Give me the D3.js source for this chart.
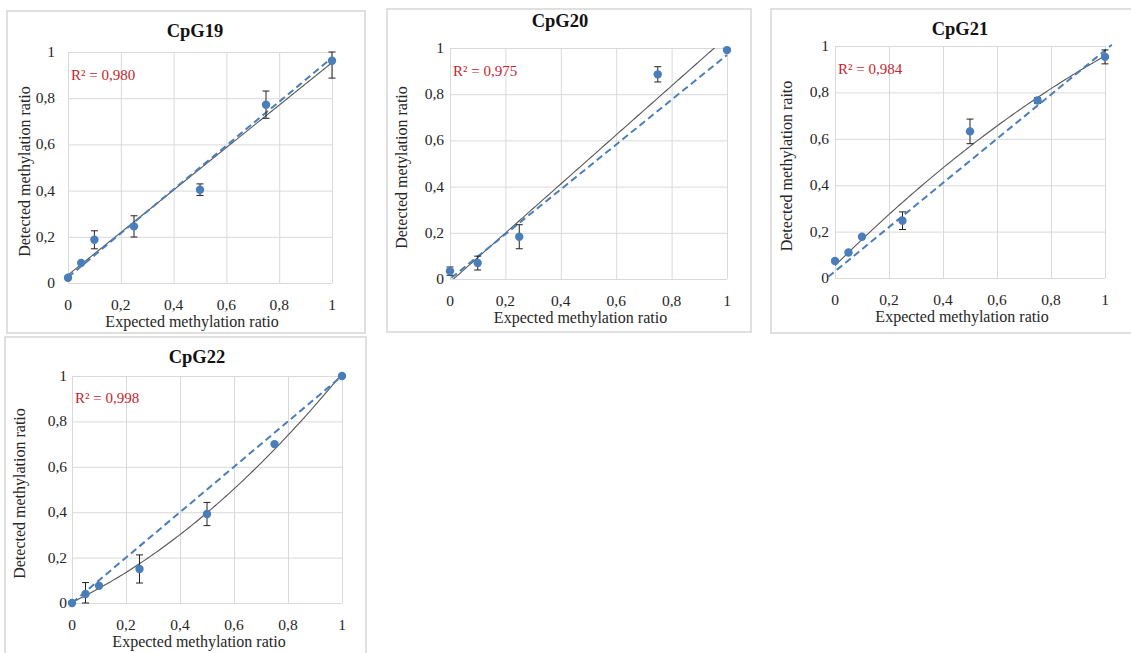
<!DOCTYPE html>
<html>
<head>
<meta charset="utf-8">
<script src="https://cdn.jsdelivr.net/npm/d3@7"></script>
<style>
  body { margin: 0; background: #fff; }
  svg { display: block; }
</style>
</head>
<body>
<script>
// chart values
var titles = ["CpG19", "CpG20", "CpG21", "CpG22"]
var r2Labels = ["R\u00b2 = 0,980", "R\u00b2 = 0,975", "R\u00b2 = 0,984", "R\u00b2 = 0,998"]
var yTitles = ["Detected methylation ratio", "Detected metylation ratio", "Detected methylation raito", "Detected methylation ratio"]
var xTitle = "Expected methylation ratio"

var tickValues = [0, 0.2, 0.4, 0.6, 0.8, 1]
var tickLabels = ["0", "0,2", "0,4", "0,6", "0,8", "1"]

var expected19 = [0, 0.05, 0.1, 0.25, 0.5, 0.75, 1]
var detected19 = [0.023, 0.087, 0.187, 0.245, 0.404, 0.772, 0.962]
var err19 = [0, 0, 0.039, 0.046, 0.025, 0.059, 0.075]

var expected20 = [0, 0.1, 0.25, 0.75, 1]
var detected20 = [0.034, 0.069, 0.183, 0.886, 0.991]
var err20 = [0.018, 0.03, 0.052, 0.033, 0]

var expected21 = [0, 0.05, 0.1, 0.25, 0.5, 0.75, 1]
var detected21 = [0.073, 0.11, 0.178, 0.247, 0.632, 0.765, 0.953]
var err21 = [0, 0.008, 0, 0.038, 0.053, 0.012, 0.03]

var expected22 = [0, 0.05, 0.1, 0.25, 0.5, 0.75, 1]
var detected22 = [0.0, 0.04, 0.076, 0.15, 0.392, 0.70, 1.0]
var err22 = [0, 0.05, 0, 0.062, 0.051, 0, 0]

// polynomial order of each trend line
var fitDegree = [1, 1, 2, 2]

// ends of the dashed reference line
var dashFrom = [[0, 0.025], [0.005, 0.005], [-0.025, 0.005], [0, 0]]
var dashTo = [[1, 0.975], [1, 0.97], [1.025, 1.005], [1, 1]]

var series = [
    [expected19, detected19, err19],
    [expected20, detected20, err20],
    [expected21, detected21, err21],
    [expected22, detected22, err22]
]

// layout of the four boxes (box, plot area, text offsets)
var layout = [
    { box: [7, 11, 365, 333], plot: [68, 52, 332, 283], titleX: 195, titleY: 37, yTitleX: 24, tickGap: 13 },
    { box: [387, 9, 751, 332], plot: [450, 48, 727, 279], titleX: 560, titleY: 27, yTitleX: 401, tickGap: 6 },
    { box: [771, 9, 1140, 333], plot: [835, 46, 1105, 278], titleX: 960, titleY: 35, yTitleX: 786, tickGap: 6 },
    { box: [5, 337, 366, 670], plot: [72, 376, 342, 603], titleX: 197, titleY: 363, yTitleX: 19, tickGap: 5 }
]

var fontFamily = "'Liberation Serif', 'Times New Roman', serif"
var blue = "#4a7ebb"
var textColor = "#262626"

function polyfit(xs, ys, deg) {
    var n = deg + 1
    var A = []
    for (var i = 0; i < n; i++) {
        A.push([])
        for (var j = 0; j < n; j++) {
            A[i].push(d3.sum(xs, function(x) { return Math.pow(x, i + j) }))
        }
        A[i].push(d3.sum(xs, function(x, k) { return Math.pow(x, i) * ys[k] }))
    }
    // gaussian elimination
    for (var c = 0; c < n; c++) {
        for (var r = c + 1; r < n; r++) {
            var f = A[r][c] / A[c][c]
            for (var k = c; k <= n; k++) A[r][k] -= f * A[c][k]
        }
    }
    var coef = new Array(n).fill(0)
    for (var r2 = n - 1; r2 >= 0; r2--) {
        var s = A[r2][n]
        for (var k2 = r2 + 1; k2 < n; k2++) s -= A[r2][k2] * coef[k2]
        coef[r2] = s / A[r2][r2]
    }
    return coef
}

var svg = d3.select("body").append("svg")
    .attr("width", 1131)
    .attr("height", 653)

function drawPanel(idx) {
    var L = layout[idx]
    var xs = series[idx][0], ys = series[idx][1], es = series[idx][2]
    var g = svg.append("g")

    g.append("rect")
        .attr("x", L.box[0]).attr("y", L.box[1])
        .attr("width", L.box[2] - L.box[0]).attr("height", L.box[3] - L.box[1])
        .attr("fill", "#fff")
        .attr("stroke", "#d6d6d6")
        .attr("stroke-width", 1.5)

    var x = d3.scaleLinear().domain([0, 1]).range([L.plot[0], L.plot[2]])
    var y = d3.scaleLinear().domain([0, 1]).range([L.plot[3], L.plot[1]])
    var yc = y.copy().clamp(true)

    // gridlines
    g.append("g")
        .attr("transform", "translate(0," + L.plot[3] + ")")
        .call(d3.axisBottom(x).tickValues(tickValues).tickSize(-(L.plot[3] - L.plot[1])).tickFormat(""))
        .call(function(a) {
            a.select(".domain").remove()
            a.selectAll("line").attr("stroke", "#d9d9d9")
        })
    g.append("g")
        .attr("transform", "translate(" + L.plot[0] + ",0)")
        .call(d3.axisLeft(y).tickValues(tickValues).tickSize(-(L.plot[2] - L.plot[0])).tickFormat(""))
        .call(function(a) {
            a.select(".domain").remove()
            a.selectAll("line").attr("stroke", "#d9d9d9")
        })

    // tick labels
    g.selectAll(".xt").data(tickValues).enter().append("text")
        .attr("x", function(d) { return x(d) })
        .attr("y", L.plot[3] + 27)
        .attr("text-anchor", "middle")
        .style("font-family", fontFamily)
        .style("font-size", "15.5px")
        .attr("fill", textColor)
        .text(function(d, i) { return tickLabels[i] })
    g.selectAll(".yt").data(tickValues).enter().append("text")
        .attr("x", L.plot[0] - L.tickGap)
        .attr("y", function(d) { return y(d) + 5 })
        .attr("text-anchor", "end")
        .style("font-family", fontFamily)
        .style("font-size", "15.5px")
        .attr("fill", textColor)
        .text(function(d, i) { return tickLabels[i] })

    // axis titles
    g.append("text")
        .attr("x", (L.plot[0] + L.plot[2]) / 2 - 8)
        .attr("y", L.plot[3] + 44)
        .attr("text-anchor", "middle")
        .style("font-family", fontFamily)
        .style("font-size", "16px")
        .attr("fill", textColor)
        .text(xTitle)
    g.append("text")
        .attr("transform", "translate(" + L.yTitleX + "," + ((L.plot[1] + L.plot[3]) / 2 + 4) + ") rotate(-90)")
        .attr("dy", "0.35em")
        .attr("text-anchor", "middle")
        .style("font-family", fontFamily)
        .style("font-size", "16px")
        .attr("fill", textColor)
        .text(yTitles[idx])

    // title
    g.append("text")
        .attr("x", L.titleX)
        .attr("y", L.titleY)
        .attr("text-anchor", "middle")
        .style("font-family", fontFamily)
        .style("font-size", "18.5px")
        .style("font-weight", "bold")
        .attr("fill", "#111")
        .text(titles[idx])

    // R squared
    g.append("text")
        .attr("x", x(0) + 3)
        .attr("y", y(0.88))
        .style("font-family", fontFamily)
        .style("font-size", "15px")
        .attr("fill", "#c3262e")
        .text(r2Labels[idx])

    // clip for trend line
    var clipId = "clip" + idx
    svg.append("clipPath").attr("id", clipId)
        .append("rect")
        .attr("x", L.plot[0]).attr("y", L.plot[1])
        .attr("width", L.plot[2] - L.plot[0]).attr("height", L.plot[3] - L.plot[1])

    // trend line fitted to the points
    var coef = polyfit(xs, ys, fitDegree[idx])
    var fitPts = d3.range(0, 1.0001, 0.01).map(function(t) {
        var v = 0
        coef.forEach(function(c, p) { v += c * Math.pow(t, p) })
        return [t, v]
    })
    g.append("path")
        .datum(fitPts)
        .attr("clip-path", "url(#" + clipId + ")")
        .attr("fill", "none")
        .attr("stroke", "#555")
        .attr("stroke-width", 1.1)
        .attr("d", d3.line().x(function(d) { return x(d[0]) }).y(function(d) { return y(d[1]) }))

    // dashed reference line
    g.append("line")
        .attr("x1", x(dashFrom[idx][0])).attr("y1", y(dashFrom[idx][1]))
        .attr("x2", x(dashTo[idx][0])).attr("y2", y(dashTo[idx][1]))
        .attr("stroke", blue)
        .attr("stroke-width", 2)
        .attr("stroke-dasharray", "7,4")

    // error bars
    var pts = xs.map(function(v, i) { return { x: v, y: ys[i], e: es[i] } })
    var eb = g.selectAll(".eb").data(pts.filter(function(d) { return d.e > 0 })).enter().append("g")
        .attr("stroke", "#222")
        .attr("stroke-width", 1)
    eb.append("line")
        .attr("x1", function(d) { return x(d.x) }).attr("x2", function(d) { return x(d.x) })
        .attr("y1", function(d) { return yc(d.y - d.e) }).attr("y2", function(d) { return yc(d.y + d.e) })
    eb.append("line")
        .attr("x1", function(d) { return x(d.x) - 3.5 }).attr("x2", function(d) { return x(d.x) + 3.5 })
        .attr("y1", function(d) { return yc(d.y - d.e) }).attr("y2", function(d) { return yc(d.y - d.e) })
    eb.append("line")
        .attr("x1", function(d) { return x(d.x) - 3.5 }).attr("x2", function(d) { return x(d.x) + 3.5 })
        .attr("y1", function(d) { return yc(d.y + d.e) }).attr("y2", function(d) { return yc(d.y + d.e) })

    // markers
    g.selectAll(".pt").data(pts).enter().append("circle")
        .attr("cx", function(d) { return x(d.x) })
        .attr("cy", function(d) { return y(d.y) })
        .attr("r", 4.2)
        .attr("fill", blue)
}

titles.forEach(function(t, i) { drawPanel(i) })
</script>
</body>
</html>
